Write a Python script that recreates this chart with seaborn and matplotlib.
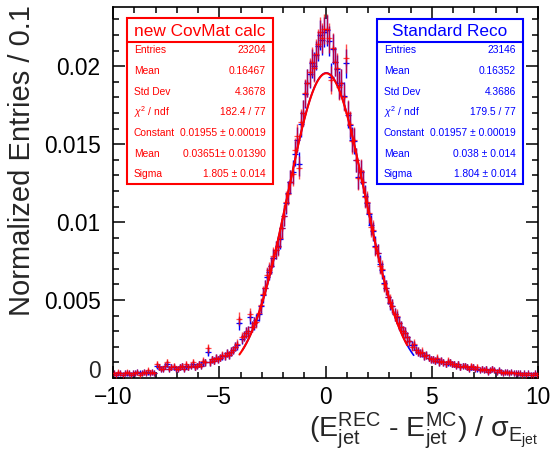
import numpy as np
import pandas as pd
import matplotlib
matplotlib.use("Agg")
import matplotlib.pyplot as plt
import seaborn as sns
from matplotlib.patches import Rectangle
from matplotlib.lines import Line2D
from matplotlib.ticker import MultipleLocator, FuncFormatter

# ---------------- data ----------------
bin_centers = np.round(np.linspace(-9.95, 9.95, 200), 2)

# "new CovMat calc" histogram contents (units of 1e-4)
red_vals_e4 = [
    3, 2, 4, 3, 2, 3, 4, 3, 2, 3,
    3, 4, 2, 3, 4, 3, 5, 3, 4, 3,
    9, 7, 6, 6, 8, 10, 6, 7, 8, 6,
    6, 7, 8, 6, 9, 7, 8, 10, 7, 8,
    9, 8, 11, 10, 19, 10, 12, 11, 13, 12,
    13, 15, 14, 16, 15, 17, 18, 20, 22, 38,
    26, 27, 29, 30, 41, 33, 35, 36, 42, 47,
    54, 58, 66, 69, 72, 78, 82, 84, 90, 96,
    104, 113, 118, 126, 131, 146, 155, 135, 164, 170,
    183, 189, 196, 203, 199, 208, 214, 222, 218, 224,
    224, 218, 191, 212, 203, 199, 187, 189, 180, 205,
    170, 163, 152, 153, 140, 128, 133, 126, 116, 113,
    106, 97, 95, 84, 80, 72, 70, 60, 58, 52,
    49, 46, 41, 40, 35, 33, 30, 29, 26, 24,
    20, 22, 18, 17, 16, 17, 14, 15, 13, 12,
    12, 11, 13, 10, 11, 10, 9, 11, 10, 9,
    9, 8, 9, 7, 8, 8, 7, 6, 8, 7,
    6, 7, 5, 6, 5, 6, 4, 5, 6, 5,
    4, 5, 4, 3, 4, 4, 3, 4, 3, 3,
    3, 3, 2, 3, 2, 3, 2, 2, 3, 2,
]

# "Standard Reco" histogram contents (units of 1e-4)
blue_vals_e4 = [
    3, 2, 3, 3, 2, 3, 3, 3, 2, 3,
    3, 4, 3, 3, 4, 3, 4, 3, 4, 3,
    8, 7, 6, 6, 8, 9, 6, 7, 7, 6,
    6, 7, 8, 6, 8, 7, 8, 9, 7, 8,
    9, 8, 10, 10, 17, 10, 12, 11, 13, 12,
    13, 14, 14, 16, 15, 17, 18, 20, 21, 35,
    25, 27, 29, 30, 39, 33, 35, 37, 41, 46,
    53, 58, 65, 68, 72, 77, 82, 85, 89, 96,
    104, 112, 119, 126, 132, 144, 153, 137, 163, 170,
    182, 189, 195, 202, 200, 207, 213, 220, 217, 222,
    223, 216, 193, 211, 203, 198, 188, 189, 181, 202,
    169, 162, 153, 152, 140, 129, 132, 126, 117, 112,
    105, 98, 94, 85, 80, 73, 69, 61, 58, 52,
    48, 46, 41, 39, 35, 33, 30, 29, 26, 24,
    21, 21, 18, 17, 16, 16, 14, 15, 13, 12,
    12, 11, 12, 10, 11, 10, 9, 10, 10, 9,
    9, 8, 9, 7, 8, 8, 7, 6, 7, 7,
    6, 6, 5, 6, 5, 6, 4, 5, 6, 5,
    4, 5, 4, 3, 4, 4, 3, 4, 3, 3,
    3, 3, 2, 3, 2, 3, 2, 2, 3, 2,
]

red_entries = 23204
blue_entries = 23146

# Gaussian fit parameters (constant, mean, sigma) and fit ranges
red_fit = (0.01955, 0.03651, 1.805)
blue_fit = (0.01957, 0.038, 1.804)
red_fit_range = (-4.05, 3.85)
blue_fit_range = (-3.9, 4.15)

red_title = "new CovMat calc"
blue_title = "Standard Reco"
stat_labels = ["Entries", "Mean", "Std Dev", r"$\chi^{2}$ / ndf", "Constant", "Mean", "Sigma"]
red_stat_values = ["23204", "0.16467", "4.3678", "182.4 / 77",
                   "0.01955 ± 0.00019", "0.03651± 0.01390", "1.805 ± 0.014"]
blue_stat_values = ["23146", "0.16352", "4.3686", "179.5 / 77",
                    "0.01957 ± 0.00019", "0.038 ± 0.014", "1.804 ± 0.014"]

y_ticks = [0, 0.005, 0.01, 0.015, 0.02]
x_ticks = [-10, -5, 0, 5, 10]

# ---------------- style ----------------
sns.set_theme(style="ticks")
plt.rcParams["font.family"] = ["Liberation Sans", "DejaVu Sans"]
plt.rcParams["mathtext.fontset"] = "custom"
plt.rcParams["mathtext.rm"] = "Liberation Sans"
plt.rcParams["mathtext.it"] = "Liberation Sans:italic"
plt.rcParams["mathtext.bf"] = "Liberation Sans:bold"
plt.rcParams["mathtext.sf"] = "Liberation Sans"

W, H = 553, 453
fig = plt.figure(figsize=(W / 100, H / 100), dpi=100)
fig.patch.set_facecolor("white")


def fx(px):
    return px / W


def fy(py):
    return 1 - py / H


ax_l, ax_r, ax_t, ax_b = 113, 538, 7, 378
ax = fig.add_axes([fx(ax_l), fy(ax_b), (ax_r - ax_l) / W, (ax_b - ax_t) / H])
ax.set_facecolor("white")

df = pd.DataFrame({
    "x": bin_centers,
    "red": np.array(red_vals_e4) * 1e-4,
    "blue": np.array(blue_vals_e4) * 1e-4,
})
df["red_err"] = np.sqrt(df["red"] / red_entries)
df["blue_err"] = np.sqrt(df["blue"] / blue_entries)

# data points (blue underneath)
ax.errorbar(df["x"], df["blue"], yerr=df["blue_err"], xerr=0.05, fmt="+",
            ms=4, mew=0.9, elinewidth=1.0, color="#0000ff", capsize=0, zorder=2)


def gauss_frame(params, rng):
    c, m, s = params
    xs = np.linspace(rng[0], rng[1], 300)
    return pd.DataFrame({"x": xs, "y": c * np.exp(-0.5 * ((xs - m) / s) ** 2)})


bf = gauss_frame(blue_fit, blue_fit_range)
sns.lineplot(data=bf, x="x", y="y", ax=ax, color="#0000ff", lw=1.2, zorder=3)

ax.errorbar(df["x"], df["red"], yerr=df["red_err"], xerr=0.05, fmt="+",
            ms=4, mew=0.9, elinewidth=1.0, color="#ff0000", alpha=0.7,
            capsize=0, zorder=4)

rf = gauss_frame(red_fit, red_fit_range)
sns.lineplot(data=rf, x="x", y="y", ax=ax, color="#ff0000", lw=1.5, zorder=5)

# axes
ax.set_xlim(-10, 10)
ax.set_ylim(0, 0.0238)
ax.set_xticks(x_ticks)
ax.set_yticks(y_ticks)
ax.xaxis.set_minor_locator(MultipleLocator(1))
ax.yaxis.set_minor_locator(MultipleLocator(0.001))
ax.yaxis.set_major_formatter(FuncFormatter(lambda v, p: "" if abs(v) < 1e-12 else f"{v:g}"))
ax.tick_params(which="both", direction="in", top=True, right=True, width=1.1, colors="black")
ax.tick_params(which="major", length=8.5, labelsize=16.4)
ax.tick_params(axis="y", which="major", pad=9)
ax.tick_params(axis="x", which="major", pad=6)
ax.tick_params(which="minor", length=4.5)
for sp in ax.spines.values():
    sp.set_linewidth(1.2)
    sp.set_color("black")
    sp.set_visible(True)

# ROOT-style raised "0" label on the y axis
fig.text(fx(101), fy(371), "0", ha="right", va="center", fontsize=16.4)

ax.set_xlabel("")
ax.set_ylabel("Normalized Entries / 0.1", fontsize=21, loc="top")
ax.yaxis.set_label_coords(-(113 - 22) / (ax_r - ax_l), 1.005)
ax.yaxis.label.set_va("center")

xlabel = (r"$(\mathrm{E}^{\mathrm{REC}}_{\mathrm{jet}}$ - "
          r"$\mathrm{E}^{\mathrm{MC}}_{\mathrm{jet}})$ / "
          r"$\mathrm{\sigma}_{\mathrm{E}_{\mathrm{jet}}}$")
fig.text(fx(538), fy(451), xlabel, ha="right", va="bottom", fontsize=20.5)


# stats boxes
def stats_box(left, right, top, sep, bottom, title, labels, values, color):
    rect = Rectangle((fx(left), fy(bottom)), (right - left) / W, (bottom - top) / H,
                     transform=fig.transFigure, facecolor="white", edgecolor=color,
                     lw=1.5, zorder=10)
    fig.add_artist(rect)
    fig.add_artist(Line2D([fx(left), fx(right)], [fy(sep), fy(sep)],
                          transform=fig.transFigure, color=color, lw=1.5, zorder=11))
    fig.text(fx((left + right) / 2), fy((top + sep) / 2 + 1), title, ha="center",
             va="center", fontsize=12.4, color=color, zorder=12)
    rows = [50, 71, 92, 112, 133, 154, 174]
    for ry, lab, val in zip(rows, labels, values):
        fig.text(fx(left + 7), fy(ry), lab, ha="left", va="center",
                 fontsize=7.4, color=color, zorder=12)
        fig.text(fx(right - 7), fy(ry), val, ha="right", va="center",
                 fontsize=7.4, color=color, zorder=12)


stats_box(127, 273, 18, 42, 184, red_title, stat_labels, red_stat_values, "#ff0000")
stats_box(377, 523, 19, 42, 184, blue_title, stat_labels, blue_stat_values, "#0000ff")

fig.savefig("out.png", dpi=100, facecolor="white")
